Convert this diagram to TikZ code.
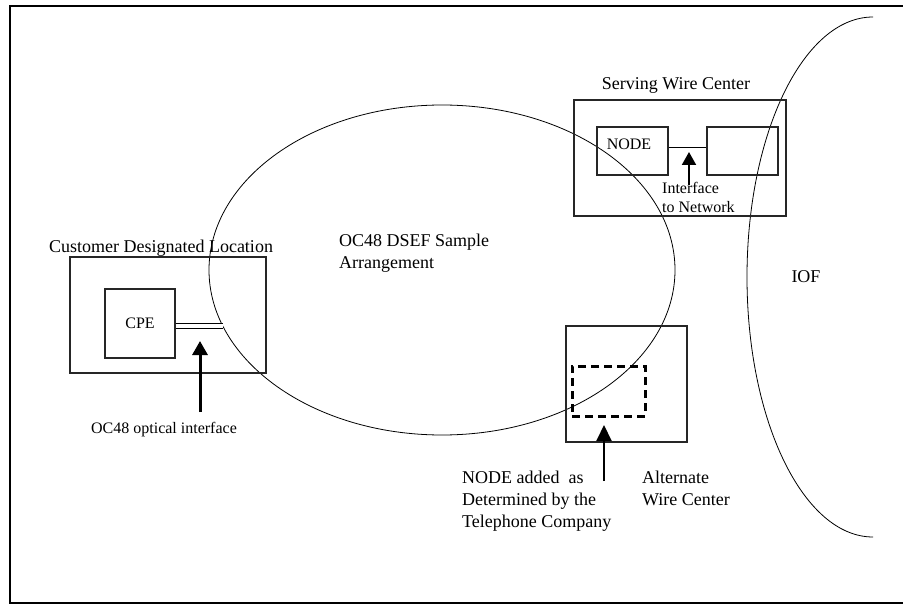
\documentclass[tikz,border=0pt]{standalone}
\usepackage{fontspec}
\setmainfont{Liberation Serif}
\usetikzlibrary{arrows.meta}

\begin{document}
\begin{tikzpicture}[x=1pt,y=-1pt]
	\tikzset{box/.style={draw=black!85, line width=1.2pt, rectangle, inner sep=0pt}}
	\tikzset{big/.style={font=\fontsize{18}{22}\selectfont, inner sep=0pt, align=left}}
	\tikzset{small/.style={font=\fontsize{16}{19}\selectfont, inner sep=0pt, align=left}}
	\tikzset{pointer/.style={-{Triangle[length=14pt,width=15pt]}, line width=2pt}}
	\useasboundingbox (0,0) rectangle (903,604);
	\draw[line width=2pt] (903,6) -- (10,6) -- (10,603) -- (903,603);

	% the two clouds
	\draw[line width=0.8pt] (442,270) ellipse [x radius=233, y radius=165];
	\draw[line width=0.8pt] (873,537) arc [start angle=90, end angle=270, x radius=126, y radius=260];
	\node[big] (arr) at (339,234) [anchor=north west] {OC48 DSEF Sample\\Arrangement};
	\node[big] (iof) at (806,277) {IOF};

	% customer side
	\node[big] (cdl-t) at (161,248) {Customer Designated Location};
	\node[box, minimum width=196pt, minimum height=116pt] (cdl) at (168,315) {};
	\node[box, minimum width=70pt, minimum height=69pt, font=\fontsize{16}{19}\selectfont] (cpe) at (140,323.5) {CPE};
	\coordinate (iface) at (223,326);
	\draw[double, double distance=4.5pt, line width=1pt] (cpe.east |- iface) -- (iface);
	\coordinate (oc-tip) at (200,341);
	\coordinate (oc-tail) at (200,412);
	\draw[pointer, line width=3pt] (oc-tail) -- (oc-tip);
	\node[small] (oc) at (164,430) {OC48 optical interface};

	% serving wire center
	\node[big] (swc-t) at (676,85) {Serving Wire Center};
	\node[box, minimum width=212pt, minimum height=116pt] (swc) at (680,158) {};
	\node[box, minimum width=71pt, minimum height=48pt] (swc-node) at (632.5,151) {};
	\node[small] (node-t) at (629,144) {NODE};
	\node[box, minimum width=71pt, minimum height=48pt] (swc-net) at (742.5,151) {};
	\draw[line width=1.2pt] ([yshift=3.5pt]swc-node.east) -- ([yshift=3.5pt]swc-net.west);
	\coordinate (net-tip) at (689,152);
	\coordinate (net-tail) at (689,185);
	\draw[pointer, -{Triangle[length=13pt,width=14pt]}] (net-tail) -- (net-tip);
	\node[small, anchor=north west] (net) at (662,182) {Interface\\to Network};

	% alternate wire center
	\node[box, minimum width=121pt, minimum height=116pt] (awc) at (626.5,384) {};
	\node[draw, line width=3pt, dash pattern=on 8pt off 5pt, minimum width=73pt, minimum height=50pt, inner sep=0pt] (awc-node) at (608.5,391) {};
	\coordinate (add-tip) at (604,425);
	\coordinate (add-tail) at (604,481);
	\draw[pointer, -{Triangle[length=16pt,width=15pt]}] (add-tail) -- (add-tip);
	\node[big, anchor=north west] (add) at (462,471) {NODE added~ as\\Determined by the\\Telephone Company};
	\node[big, anchor=north west] (awc-t) at (642,471) {Alternate\\Wire Center};
\end{tikzpicture}
\end{document}
